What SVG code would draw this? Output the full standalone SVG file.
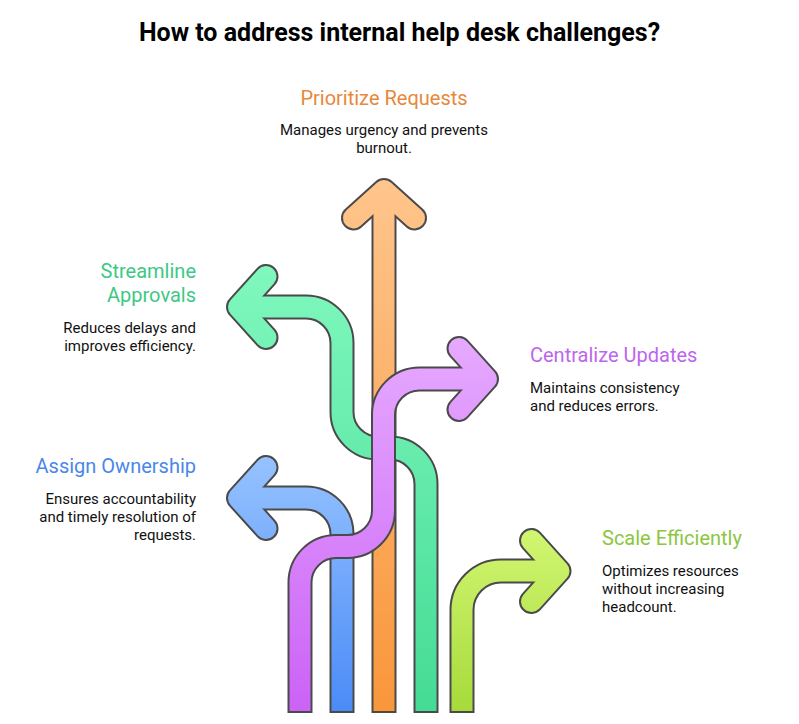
<svg xmlns="http://www.w3.org/2000/svg" width="799" height="724" viewBox="0 0 799 724">
<defs>
<linearGradient id="gO" gradientUnits="userSpaceOnUse" x1="0" y1="180" x2="0" y2="713"><stop offset="0" stop-color="#FFC58C"/><stop offset="1" stop-color="#F9963A"/></linearGradient>
<linearGradient id="gG" gradientUnits="userSpaceOnUse" x1="0" y1="265" x2="0" y2="713"><stop offset="0" stop-color="#80F8BE"/><stop offset="1" stop-color="#44DB95"/></linearGradient>
<linearGradient id="gP" gradientUnits="userSpaceOnUse" x1="0" y1="336" x2="0" y2="713"><stop offset="0" stop-color="#E6AAFF"/><stop offset="1" stop-color="#CB62F6"/></linearGradient>
<linearGradient id="gB" gradientUnits="userSpaceOnUse" x1="0" y1="456" x2="0" y2="713"><stop offset="0" stop-color="#96C2FF"/><stop offset="1" stop-color="#4A8BF7"/></linearGradient>
<linearGradient id="gL" gradientUnits="userSpaceOnUse" x1="0" y1="528" x2="0" y2="713"><stop offset="0" stop-color="#D2F672"/><stop offset="1" stop-color="#A6DA3A"/></linearGradient>
</defs>
<style>
.ol{fill:none;stroke:#4a4a4a;stroke-width:25;stroke-linejoin:round}
.fl{fill:none;stroke-width:21;stroke-linejoin:round}
.cap{stroke-linecap:round}
.title{font-family:Roboto,"Liberation Sans",sans-serif;font-weight:bold;font-size:25px;fill:#000}
.lbl{font-family:Roboto,"Liberation Sans",sans-serif;font-size:20px}
.desc{font-family:Roboto,"Liberation Sans",sans-serif;font-size:15px;fill:#111}
</style>
<rect width="799" height="724" fill="#fff"/>
<text class="title" x="399.5" y="41" text-anchor="middle">How to address internal help desk challenges?</text>

<g id="node-prioritize">
<path class="ol" d="M384 713V197"/>
<path class="ol cap" d="M353.5 218L384 190.5L414.5 218"/>
<path class="fl" stroke="url(#gO)" d="M384 711V197"/>
<path class="fl cap" stroke="url(#gO)" d="M353.5 218L384 190.5L414.5 218"/>
<text class="lbl" x="384" y="105" text-anchor="middle" fill="#E8883A">Prioritize Requests</text>
<text class="desc" x="384" y="135" text-anchor="middle">Manages urgency and prevents</text>
<text class="desc" x="384" y="153" text-anchor="middle">burnout.</text>
</g>

<g id="node-streamline">
<path class="ol" d="M245 307H306A36 36 0 0 1 342 343V412A36 36 0 0 0 378 448H390A36 36 0 0 1 426 484V713"/>
<path class="ol cap" d="M266 276.5L238.5 307L266 337.5"/>
<path class="fl" stroke="url(#gG)" d="M245 307H306A36 36 0 0 1 342 343V412A36 36 0 0 0 378 448H390A36 36 0 0 1 426 484V711"/>
<path class="fl cap" stroke="url(#gG)" d="M266 276.5L238.5 307L266 337.5"/>
<text class="lbl" x="196" y="278" text-anchor="end" fill="#3DC985">Streamline</text>
<text class="lbl" x="196" y="302" text-anchor="end" fill="#3DC985">Approvals</text>
<text class="desc" x="196" y="333" text-anchor="end">Reduces delays and</text>
<text class="desc" x="196" y="351" text-anchor="end">improves efficiency.</text>
</g>

<g id="node-assign">
<path class="ol" d="M342 713V534A36 36 0 0 0 306 498H245"/>
<path class="ol cap" d="M266 467.5L238.5 498L266 528.5"/>
<path class="fl" stroke="url(#gB)" d="M342 711V534A36 36 0 0 0 306 498H245"/>
<path class="fl cap" stroke="url(#gB)" d="M266 467.5L238.5 498L266 528.5"/>
<text class="lbl" x="196" y="473" text-anchor="end" fill="#4A87E8">Assign Ownership</text>
<text class="desc" x="196" y="504" text-anchor="end">Ensures accountability</text>
<text class="desc" x="196" y="522" text-anchor="end">and timely resolution of</text>
<text class="desc" x="196" y="540" text-anchor="end">requests.</text>
</g>

<g id="node-scale">
<path class="ol" d="M462 713V610A39 39 0 0 1 501 571H552"/>
<path class="ol cap" d="M531.5 540.5L559 571L531.5 601.5"/>
<path class="fl" stroke="url(#gL)" d="M462 711V610A39 39 0 0 1 501 571H552"/>
<path class="fl cap" stroke="url(#gL)" d="M531.5 540.5L559 571L531.5 601.5"/>
<text class="lbl" x="602" y="545" fill="#8CC63F">Scale Efficiently</text>
<text class="desc" x="602" y="576">Optimizes resources</text>
<text class="desc" x="602" y="594">without increasing</text>
<text class="desc" x="602" y="612">headcount.</text>
</g>

<g id="node-centralize">
<path class="ol" d="M300 713V582.5A36 36 0 0 1 336 546.5H347A36 36 0 0 0 383.5 510.5V415.5A36 36 0 0 1 419.5 379H480"/>
<path class="ol cap" d="M459 348.5L486.5 379L459 409.5"/>
<path class="fl" stroke="url(#gP)" d="M300 711V582.5A36 36 0 0 1 336 546.5H347A36 36 0 0 0 383.5 510.5V415.5A36 36 0 0 1 419.5 379H480"/>
<path class="fl cap" stroke="url(#gP)" d="M459 348.5L486.5 379L459 409.5"/>
<text class="lbl" x="530" y="362" fill="#BD66EC">Centralize Updates</text>
<text class="desc" x="530" y="393">Maintains consistency</text>
<text class="desc" x="530" y="411">and reduces errors.</text>
</g>
</svg>
